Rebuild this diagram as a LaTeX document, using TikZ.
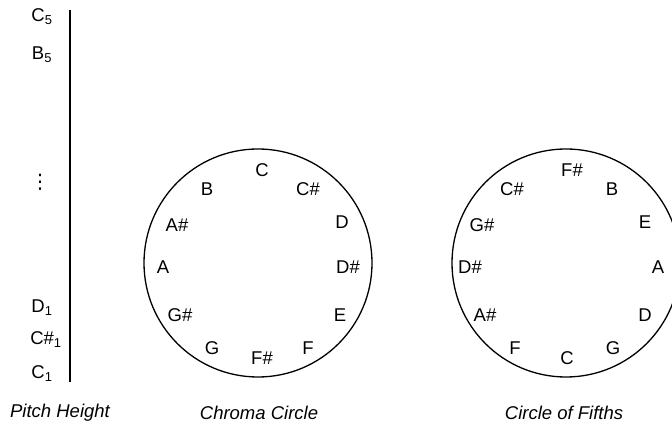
\documentclass[tikz,border=0pt]{standalone}
\usepackage{fontspec}
\setmainfont{Liberation Sans}
\newfontfamily\dotsfont{DejaVu Sans}
\begin{document}
\begin{tikzpicture}[x=1pt,y=1pt,
  note/.style={font=\fontsize{18.5}{20}\selectfont, inner sep=0pt},
  caption/.style={font=\fontsize{18.5}{20}\selectfont\itshape, inner sep=0pt},
  ring/.style={draw, line width=1.3pt}]
\useasboundingbox (0,0) rectangle (672,430);
\clip (0,0) rectangle (672,430);
% Pitch height
\coordinate (ptop) at (70,420);
\coordinate (pbot) at (70,48);
\draw[line width=1.6pt] (ptop) -- (pbot);
\node[note] (c5) at (42,413) {C\textsubscript{5}};
\node[note] (b5) at (42,375) {B\textsubscript{5}};
\node[inner sep=0pt, font=\dotsfont\fontsize{20}{22}\selectfont] (dots) at (40,248) {⋮};
\node[note] (d1) at (42,122) {D\textsubscript{1}};
\node[note] (cs1) at (46,90) {C\#\textsubscript{1}};
\node[note] (c1) at (42,56) {C\textsubscript{1}};
\node[caption] (lp) at (60,17) {Pitch Height};
% Chroma circle
\node[ring, circle, minimum size=228pt] (cc) at (258,167) {};
\node[note] (n1) at (262,260) {C};
\node[note] (n2) at (308,241) {C\#};
\node[note] (n3) at (342,208) {D};
\node[note] (n4) at (348,163) {D\#};
\node[note] (n5) at (340,115) {E};
\node[note] (n6) at (308,82) {F};
\node[note] (n7) at (262,72) {F\#};
\node[note] (n8) at (212,82) {G};
\node[note] (n9) at (180,115) {G\#};
\node[note] (n10) at (163,163) {A};
\node[note] (n11) at (177,205) {A\#};
\node[note] (n12) at (207,241) {B};
\node[caption] (lc) at (259,17) {Chroma Circle};
% Circle of fifths
\node[ring, circle, minimum size=228pt] (cf) at (566,167) {};
\node[note] (f1) at (572,260) {F\#};
\node[note] (f2) at (612,241) {B};
\node[note] (f3) at (645,208) {E};
\node[note] (f4) at (658,163) {A};
\node[note] (f5) at (645,115) {D};
\node[note] (f6) at (613,82) {G};
\node[note] (f7) at (567,72) {C};
\node[note] (f8) at (515,82) {F};
\node[note] (f9) at (485,115) {A\#};
\node[note] (f10) at (470,163) {D\#};
\node[note] (f11) at (482,205) {G\#};
\node[note] (f12) at (512,241) {C\#};
\node[caption] (lf) at (564,17) {Circle of Fifths};
\end{tikzpicture}
\end{document}
